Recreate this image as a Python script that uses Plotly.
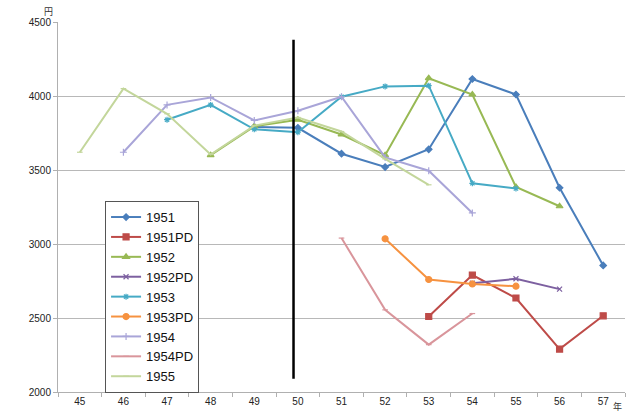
import plotly.graph_objects as go

# Years on the horizontal axis (Showa era, 45 -> 57)
years = [45, 46, 47, 48, 49, 50, 51, 52, 53, 54, 55, 56, 57]
year_labels = [str(y) for y in years]

# Price series (円)
s1951 = [None, None, None, None, 3790, 3785, 3610, 3520, 3640, 4115, 4010, 3380, 2855]
s1951PD = [None, None, None, None, None, None, None, None, 2510, 2790, 2635, 2290, 2515]
s1952 = [None, None, None, 3600, 3795, 3840, 3740, 3600, 4120, 4010, 3385, 3255, None]
s1952PD = [None, None, None, None, None, None, None, None, None, 2735, 2765, 2695, None]
s1953 = [None, None, 3840, 3940, 3775, 3755, 3995, 4065, 4070, 3410, 3375, None, None]
s1953PD = [None, None, None, None, None, None, None, 3035, 2760, 2730, 2715, None, None]
s1954 = [None, 3620, 3940, 3990, 3835, 3900, 3995, 3585, 3495, 3210, None, None, None]
s1954PD = [None, None, None, None, None, None, 3040, 2555, 2320, 2530, None, None, None]
s1955 = [3620, 4050, 3880, 3605, 3800, 3855, 3760, 3575, 3400, None, None, None, None]

# Vertical reference line near year 50
ref_x = [49.9, 49.9]
ref_y = [2090, 4380]

series = [
    ("1951", s1951, "#4a7ebb", "diamond", 5),
    ("1951PD", s1951PD, "#be4b48", "square", 6),
    ("1952", s1952, "#98b954", "triangle-up", 6),
    ("1952PD", s1952PD, "#7d60a0", "x-thin", 5),
    ("1953", s1953, "#46aac5", "asterisk", 5),
    ("1953PD", s1953PD, "#f69240", "circle", 6),
    ("1954", s1954, "#a9a5d8", "cross-thin", 5),
    ("1954PD", s1954PD, "#d9959b", "line-ew", 4),
    ("1955", s1955, "#c3d69b", "line-ew", 4),
]

fig = go.Figure()
for name, vals, color, sym, size in series:
    fig.add_trace(go.Scatter(
        x=years, y=vals, name=name, mode="lines+markers",
        line=dict(color=color, width=2),
        marker=dict(symbol=sym, size=size, color=color,
                    line=dict(color=color, width=1.2)),
        connectgaps=False,
    ))

fig.add_trace(go.Scatter(
    x=ref_x, y=ref_y, mode="lines", showlegend=False,
    line=dict(color="black", width=2.5), hoverinfo="skip",
))

fig.update_layout(
    width=628, height=416,
    margin=dict(l=58, r=3, t=22, b=24),
    paper_bgcolor="white", plot_bgcolor="white",
    font=dict(family="Liberation Sans", color="#222222"),
    showlegend=True,
    legend=dict(
        x=0.083, y=0.516, xanchor="left", yanchor="top",
        bgcolor="white", bordercolor="#555555", borderwidth=1,
        font=dict(size=13, color="#111111"),
        tracegroupgap=0, itemwidth=30,
    ),
    xaxis=dict(
        range=[44.5, 57.5], tickmode="array", tickvals=years, ticktext=year_labels,
        showgrid=False, zeroline=False, showline=True, linecolor="#b0b0b0", linewidth=1,
        ticks="", tickfont=dict(size=10, color="#222222"),
        minor=dict(tickmode="array", tickvals=[y - 0.5 for y in years] + [57.5],
                   ticks="outside", ticklen=4, tickcolor="#b0b0b0", showgrid=False),
    ),
    yaxis=dict(
        range=[2000, 4500], tickmode="array", tickvals=[2000, 2500, 3000, 3500, 4000, 4500],
        showgrid=True, gridcolor="#b8b8b8", gridwidth=1, zeroline=False,
        showline=True, linecolor="#b0b0b0", linewidth=1,
        ticks="outside", ticklen=4, tickcolor="#b0b0b0",
        tickfont=dict(size=10, color="#222222"),
    ),
    annotations=[
        dict(text="円", x=0, y=1, xref="paper", yref="paper", xanchor="right", yanchor="bottom",
             xshift=-3, yshift=2, showarrow=False, font=dict(size=9, color="#333333",
             family="Noto Sans CJK JP")),
        dict(text="年", x=1, y=0, xref="paper", yref="paper", xanchor="right", yanchor="top",
             xshift=-1, yshift=-6, showarrow=False, font=dict(size=9, color="#333333",
             family="Noto Sans CJK JP")),
    ],
)

fig.write_html("out.html")
